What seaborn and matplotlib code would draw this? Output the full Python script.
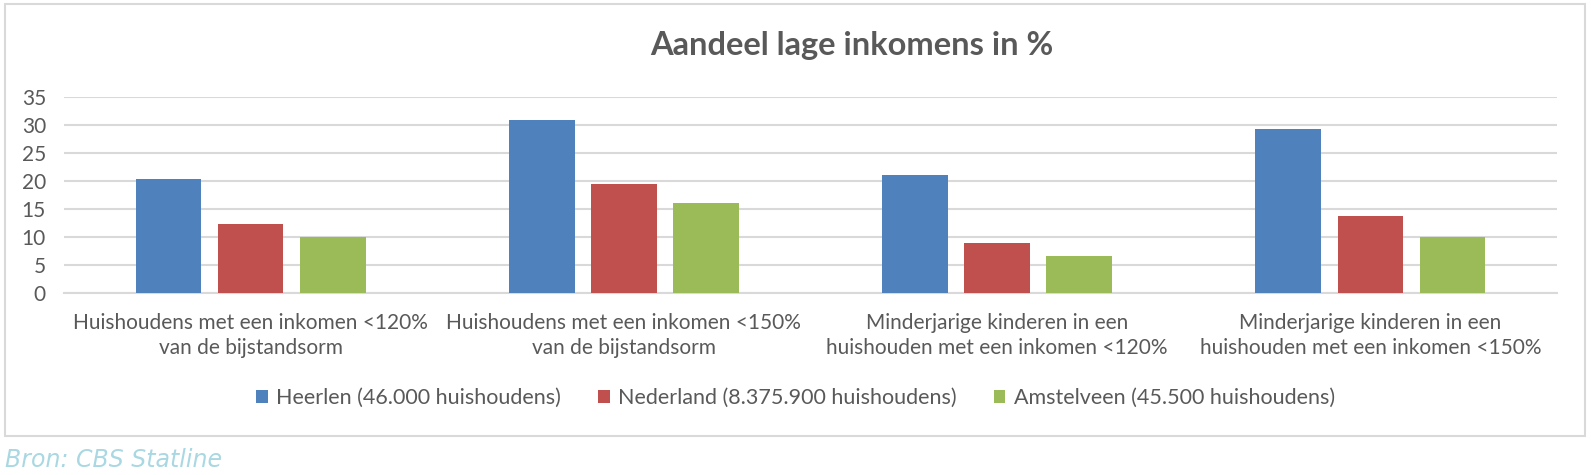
import matplotlib.pyplot as plt
import matplotlib.patches as patches
import pandas as pd
import seaborn as sns

categories = [
    "Huishoudens met een inkomen <120%\nvan de bijstandsorm",
    "Huishoudens met een inkomen <150%\nvan de bijstandsorm",
    "Minderjarige kinderen in een\nhuishouden met een inkomen <120%",
    "Minderjarige kinderen in een\nhuishouden met een inkomen <150%",
]
regions = [
    "Heerlen (46.000 huishoudens)",
    "Nederland (8.375.900 huishoudens)",
    "Amstelveen (45.500 huishoudens)",
]
heerlen = [20.4, 31.0, 21.1, 29.3]
nederland = [12.3, 19.4, 8.9, 13.7]
amstelveen = [9.9, 16.0, 6.6, 10.0]
yticks = [0, 5, 10, 15, 20, 25, 30, 35]

COLORS = ["#4F81BD", "#C0504D", "#9BBB59"]
TEXT_COLOR = "#595959"
GRID_COLOR = "#D9D9D9"


def build_frame():
    rows = []
    for region, values in zip(regions, [heerlen, nederland, amstelveen]):
        for cat, val in zip(categories, values):
            rows.append({"categorie": cat, "regio": region, "aandeel": val})
    return pd.DataFrame(rows)


def plot_chart(df):
    sns.set_style("white")
    plt.rcParams["font.family"] = ["Lato", "DejaVu Sans"]

    fig = plt.figure(figsize=(15.91, 4.75), dpi=100)
    ax = fig.add_axes([64 / 1591, 1 - 292.7 / 475, (1557 - 64) / 1591, (292.7 - 97.3) / 475])

    sns.barplot(ax=ax, data=df, x="categorie", y="aandeel", hue="regio",
                palette=COLORS, width=0.66, gap=0.2, saturation=1,
                edgecolor="none", zorder=3)

    ax.set_ylim(0, 35)
    ax.set_xlim(-0.5, 3.5)
    ax.set_yticks(yticks)
    ax.yaxis.grid(True, color=GRID_COLOR, linewidth=1.5, zorder=0)
    ax.set_axisbelow(True)
    for side in ["top", "right", "left"]:
        ax.spines[side].set_visible(False)
    ax.spines["bottom"].set_color(GRID_COLOR)
    ax.spines["bottom"].set_linewidth(1.5)
    ax.set_xlabel("")
    ax.set_ylabel("")
    ax.tick_params(axis="y", length=0, pad=13, labelsize=15, labelcolor=TEXT_COLOR)
    ax.tick_params(axis="x", length=0, pad=14.5, labelsize=15, labelcolor=TEXT_COLOR)
    for lbl in ax.get_xticklabels():
        lbl.set_linespacing(1.3)

    handles, labels = ax.get_legend_handles_labels()
    ax.legend_.remove()
    fig.legend(handles, labels, loc="center", bbox_to_anchor=(0.5, 1 - 398 / 475),
               ncol=3, frameon=False, fontsize=15.5, labelcolor=TEXT_COLOR,
               handlelength=0.55, handleheight=0.55, handletextpad=0.4,
               columnspacing=1.7)

    fig.text(852 / 1591, 1 - 46 / 475, "Aandeel lage inkomens in %", ha="center",
             va="center", fontsize=23.5, fontweight="bold", color=TEXT_COLOR)

    fig.text(5 / 1591, 1 - 460 / 475, "Bron: CBS Statline", ha="left", va="center",
             fontsize=17, style="italic", family="DejaVu Sans", color="#A9D8E2")

    frame = patches.Rectangle((5 / 1591, 1 - 436 / 475), 1580 / 1591, 432 / 475,
                              transform=fig.transFigure, fill=False,
                              edgecolor=GRID_COLOR, linewidth=1.5)
    fig.patches.append(frame)

    plt.savefig("out.png", dpi=100)


if __name__ == "__main__":
    plot_chart(build_frame())
